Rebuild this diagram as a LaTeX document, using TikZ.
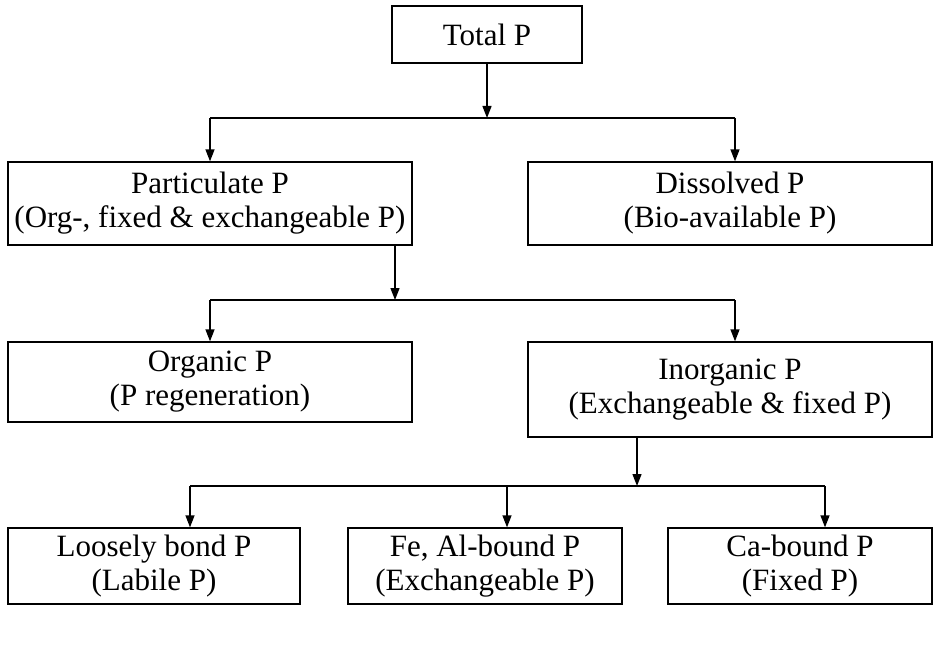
\documentclass[tikz,border=0pt]{standalone}
\usepackage{fontspec}
\setmainfont{Liberation Serif}
\usetikzlibrary{arrows.meta}
\tikzset{
  x=1pt, y=-1pt,
  pbox/.style={draw=black, line width=1.3pt, rectangle, inner sep=0pt, align=center,
    font=\fontsize{31}{34}\selectfont},
  conn/.style={line width=1.3pt},
  arr/.style={conn, -{Triangle[length=12pt,width=9pt]}}
}
\begin{document}
\begin{tikzpicture}
\useasboundingbox (0,0) rectangle (934,650);
% boxes (centre, size)
\node[pbox, minimum width=190, minimum height=57] (total) at (487,34.5) {Total P};
\node[pbox, minimum width=404, minimum height=83] (part) at (210,203.5) {Particulate P\\(Org-, fixed \& exchangeable P)};
\node[pbox, minimum width=404, minimum height=83] (diss) at (730,203.5) {Dissolved P\\(Bio-available P)};
\node[pbox, minimum width=404, minimum height=80] (org) at (210,382) {Organic P\\(P regeneration)};
\node[pbox, minimum width=404, minimum height=95] (inorg) at (730,389.5) {Inorganic P\\(Exchangeable \& fixed P)};
\node[pbox, minimum width=292, minimum height=76] (loose) at (154,566) {Loosely bond P\\(Labile P)};
\node[pbox, minimum width=274, minimum height=76] (feal) at (485,566) {Fe, Al-bound P\\(Exchangeable P)};
\node[pbox, minimum width=264, minimum height=76] (ca) at (800,566) {Ca-bound P\\(Fixed P)};
% junction points
\coordinate (j1) at (487,118);
\coordinate (j1l) at (210,118);
\coordinate (j1r) at (735,118);
\coordinate (j2) at (395,300);
\coordinate (j2l) at (210,300);
\coordinate (j2r) at (735,300);
\coordinate (j3) at (637,486);
\coordinate (j3l) at (190,486);
\coordinate (j3m) at (507,486);
\coordinate (j3r) at (825,486);
% connectors
\draw[arr] (total.south -| j1) -- (j1);
\draw[conn] (j1l) -- (j1r);
\draw[arr] (j1l) -- (j1l |- part.north);
\draw[arr] (j1r) -- (j1r |- diss.north);
\draw[arr] (part.south -| j2) -- (j2);
\draw[conn] (j2l) -- (j2r);
\draw[arr] (j2l) -- (j2l |- org.north);
\draw[arr] (j2r) -- (j2r |- inorg.north);
\draw[arr] (inorg.south -| j3) -- (j3);
\draw[conn] (j3l) -- (j3r);
\draw[arr] (j3l) -- (j3l |- loose.north);
\draw[arr] (j3m) -- (j3m |- feal.north);
\draw[arr] (j3r) -- (j3r |- ca.north);
\end{tikzpicture}
\end{document}
